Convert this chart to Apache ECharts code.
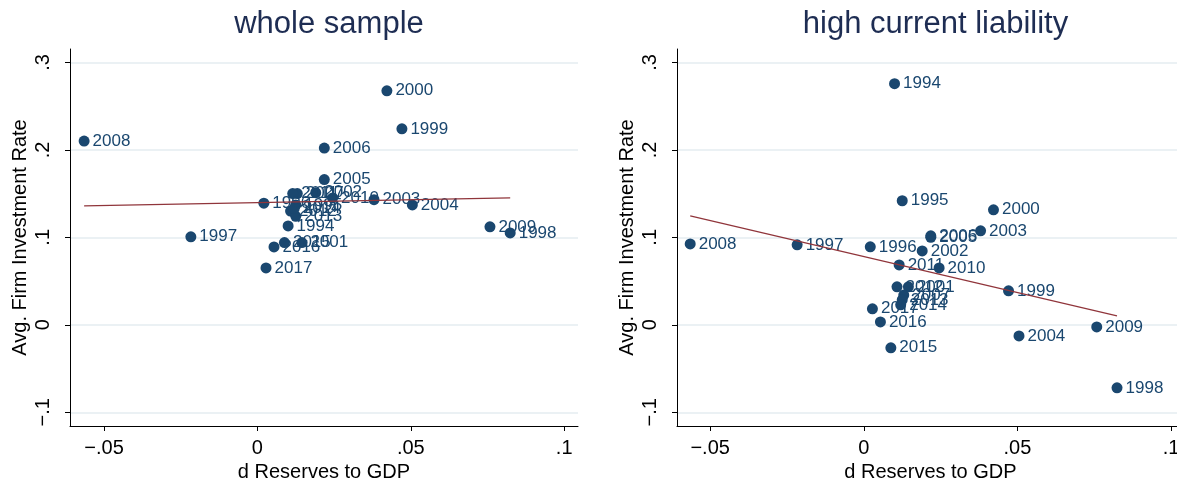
<!DOCTYPE html>
<html>
<head>
<meta charset="utf-8">
<script src="https://cdn.jsdelivr.net/npm/echarts@6/dist/echarts.min.js"></script>
<style>html,body{margin:0;padding:0;background:#fff;overflow:hidden}#c{width:1177px;height:483px}</style>
</head>
<body>
<div id="c"></div>
<script>
// ---- data ----
const years = [1994,1995,1996,1997,1998,1999,2000,2001,2002,2003,2004,2005,2006,2007,2008,2009,2010,2011,2012,2013,2014,2015,2016,2017];
const dReserves = [0.0100,0.0125,0.0021,-0.0217,0.0824,0.0471,0.0422,0.0145,0.0190,0.0380,0.0505,0.0218,0.0218,0.0130,-0.0565,0.0758,0.0245,0.0115,0.0108,0.0125,0.0120,0.0088,0.0054,0.0028];
const invWhole = [0.113,0.137,0.139,0.1006,0.105,0.224,0.2675,0.094,0.151,0.143,0.137,0.166,0.202,0.150,0.210,0.112,0.145,0.150,0.130,0.124,0.133,0.094,0.089,0.065];
const invHigh = [0.2756,0.1418,0.0891,0.0914,-0.0721,0.0388,0.1315,0.0434,0.0845,0.1074,-0.0127,0.100,0.1017,0.034,0.0925,-0.0024,0.065,0.0685,0.0434,0.0285,0.0228,-0.0263,0.0033,0.0183];
const fitWhole = [[-0.0565,0.136],[0.0824,0.145]];
const fitHigh = [[-0.0565,0.1246],[0.0824,0.0102]];
const xTicks = [-0.05,0,0.05,0.1];
const yTicks = [-0.1,0,0.1,0.2,0.3];
const titles = ['whole sample','high current liability'];
const xTitle = 'd Reserves to GDP';
const yTitle = 'Avg. Firm Investment Rate';

const NAVY = '#1a476f', MAROON = '#90353b', GRID = '#e4edf0';
const FONT = '"Liberation Sans", Arial, Helvetica, sans-serif';
function fmt(v){
  if (Math.abs(v) < 1e-9) return '0';
  let s = String(+v.toFixed(4));
  s = s.replace(/^(-?)0\./, '$1.');
  return s.replace('-', '\u2212');
}
const grids = [
  {left:70, top:49, width:508, height:377, outerBoundsMode:'none', containLabel:false},
  {left:677, top:49, width:507, height:377, outerBoundsMode:'none', containLabel:false}
];
const xr = [[-0.0611,0.1045],[-0.0608,0.1042]];
const chart = echarts.init(document.getElementById('c'), null, {renderer:'canvas'});
const option = {
  backgroundColor:'#fff',
  animation:false,
  textStyle:{fontFamily:FONT},
  title: titles.map((t,i)=>({text:t, left: grids[i].left + grids[i].width/2, top:4, textAlign:'center',
      textStyle:{fontSize:31, fontWeight:'normal', color:'#1e2d53', fontFamily:FONT}})),
  grid: grids,
  xAxis: [0,1].map(i=>({
    type:'value', gridIndex:i, min:xr[i][0], max:xr[i][1],
    name:xTitle, nameLocation:'middle', nameGap:33,
    nameTextStyle:{fontSize:20, color:'#000', fontFamily:FONT},
    axisLine:{show:true, onZero:false, lineStyle:{color:'#000', width:1}},
    axisTick:{show:true, length:5, customValues:xTicks, lineStyle:{color:'#000'}},
    axisLabel:{customValues:xTicks, formatter:fmt, fontSize:20, color:'#000', margin:12, fontFamily:FONT},
    splitLine:{show:false}
  })),
  yAxis: [0,1].map(i=>({
    type:'value', gridIndex:i, min:-0.1157, max:0.3153,
    name:yTitle, nameLocation:'middle', nameGap:40,
    nameTextStyle:{fontSize:20, color:'#000', fontFamily:FONT},
    axisLine:{show:true, onZero:false, lineStyle:{color:'#000', width:1}},
    axisTick:{show:true, length:5, customValues:yTicks, lineStyle:{color:'#000'}},
    axisLabel:{customValues:yTicks, formatter:fmt, fontSize:20, color:'#000', rotate:90, margin:17, fontFamily:FONT},
    splitLine:{show:false}
  })),
  series: []
};
const ySets = [invWhole, invHigh];
const fits = [fitWhole, fitHigh];
[0,1].forEach(i=>{
  option.series.push({
    type:'line', xAxisIndex:i, yAxisIndex:i, data:[], z:1, silent:true,
    markLine:{silent:true, z:0, symbol:['none','none'], label:{show:false}, animation:false,
      lineStyle:{color:GRID, width:1.5, type:'solid'},
      data: yTicks.map(v=>({yAxis:v}))}
  });
  option.series.push({
    type:'scatter', xAxisIndex:i, yAxisIndex:i, z:2,
    symbol:'circle', symbolSize:11,
    itemStyle:{color:NAVY, opacity:1},
    label:{show:true, position:'right', distance:3, fontSize:17, color:NAVY, fontFamily:FONT,
      formatter:p=>String(p.data[2])},
    data: years.map((y,k)=>[dReserves[k], ySets[i][k], y])
  });
  option.series.push({
    type:'line', xAxisIndex:i, yAxisIndex:i, z:3, showSymbol:false, symbol:'none',
    lineStyle:{color:MAROON, width:1.2}, data: fits[i]
  });
});
chart.setOption(option);
</script>
</body>
</html>
